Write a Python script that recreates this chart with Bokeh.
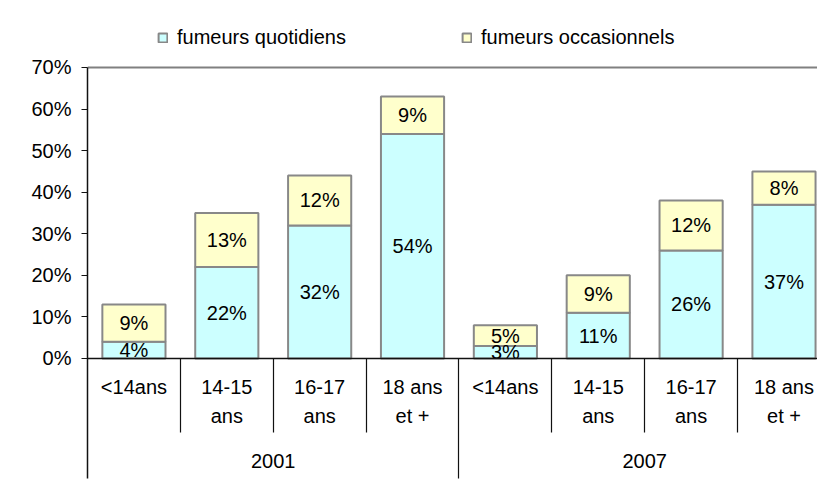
from bokeh.plotting import figure
from bokeh.models import (ColumnDataSource, Range1d, FixedTicker, LinearAxis,
                          Legend, LegendItem)
from bokeh.core.properties import value
from bokeh.embed import file_html
from bokeh.resources import INLINE

# ---- data ----
years = ["2001", "2007"]
age_line1 = ["<14ans", "14-15", "16-17", "18 ans"]
age_line2 = ["", "ans", "ans", "et +"]
quotidiens = [4, 22, 32, 54, 3, 11, 26, 37]
occasionnels = [9, 13, 12, 9, 5, 9, 12, 8]
y_ticks = [0, 10, 20, 30, 40, 50, 60, 70]
series_names = ["fumeurs quotidiens", "fumeurs occasionnels"]

FONT = "Liberation Sans"
FS = "20px"
C_Q = "#CCFFFF"
C_O = "#FFFFCC"
C_LINE = "#888888"
C_AX = "#111111"

n = len(quotidiens)
n_age = len(age_line1)
xs = [i + 0.5 for i in range(n)]
tops_o = [q + o for q, o in zip(quotidiens, occasionnels)]

src = ColumnDataSource(dict(
    x=xs, top_q=quotidiens, top_o=tops_o,
    zero=[0] * n,
    mid_q=[q / 2 for q in quotidiens],
    mid_o=[q + o / 2 for q, o in zip(quotidiens, occasionnels)],
    lab_q=[f"{q}%" for q in quotidiens],
    lab_o=[f"{o}%" for o in occasionnels],
))

p = figure(width=817, height=492, output_backend="svg", toolbar_location=None,
           x_range=Range1d(0, 7.861), y_range=Range1d(-32.23, 86.1),
           x_axis_type=None, min_border_left=87, min_border_right=0,
           min_border_top=0, min_border_bottom=0)
p.outline_line_color = None
p.background_fill_color = "white"
p.border_fill_color = "white"
p.xgrid.visible = False
p.ygrid.ticker = FixedTicker(ticks=[y_ticks[-1]])
p.ygrid.grid_line_color = "#808080"
p.ygrid.grid_line_width = 2

r_q = p.vbar(x="x", width=0.68, bottom="zero", top="top_q", source=src,
             fill_color=C_Q, line_color=C_LINE, line_width=2)
r_o = p.vbar(x="x", width=0.68, bottom="top_q", top="top_o", source=src,
             fill_color=C_O, line_color=C_LINE, line_width=2)

for ycol, tcol in (("mid_q", "lab_q"), ("mid_o", "lab_o")):
    p.text(x="x", y=ycol, text=tcol, source=src, text_align="center",
           text_baseline="middle", text_font=value(FONT),
           text_font_size=FS, text_color="black")

# y axis
ya = p.yaxis[0]
ya.ticker = FixedTicker(ticks=y_ticks, minor_ticks=[])
ya.major_label_overrides = {t: f"{t}%" for t in y_ticks}
ya.bounds = (-28.87, y_ticks[-1])
ya.major_tick_out = 6
ya.major_tick_in = 0
ya.major_label_standoff = 10
ya.major_label_text_font = FONT
ya.major_label_text_font_size = FS
ya.major_label_text_color = "black"
ya.axis_line_color = C_AX
ya.axis_line_width = 1.5
ya.major_tick_line_color = C_AX

# horizontal category axis line with separators (no labels)
group_sep = [n_age]
cat_sep = [i for i in range(1, n) if i % n_age != 0]
ax_line = LinearAxis(fixed_location=0,
                     ticker=FixedTicker(ticks=group_sep, minor_ticks=cat_sep),
                     major_label_overrides={t: "" for t in group_sep})
ax_line.axis_line_color = C_AX
ax_line.axis_line_width = 1.5
ax_line.major_tick_in = 0
ax_line.major_tick_out = 120
ax_line.major_tick_line_color = C_AX
ax_line.major_tick_line_width = 1.2
ax_line.minor_tick_in = 0
ax_line.minor_tick_out = 74
ax_line.minor_tick_line_color = C_AX
ax_line.minor_tick_line_width = 1.2
p.add_layout(ax_line, "below")

def label_axis(ticks, labels, standoff):
    ax = LinearAxis(fixed_location=0,
                    ticker=FixedTicker(ticks=ticks, minor_ticks=[]),
                    major_label_overrides={t: l for t, l in zip(ticks, labels)})
    ax.axis_line_color = None
    ax.major_tick_line_color = None
    ax.minor_tick_line_color = None
    ax.major_tick_in = 0
    ax.major_tick_out = 0
    ax.minor_tick_in = 0
    ax.minor_tick_out = 0
    ax.major_label_standoff = standoff
    ax.major_label_text_font = FONT
    ax.major_label_text_font_size = FS
    ax.major_label_text_color = "black"
    p.add_layout(ax, "below")
    return ax

label_axis(xs, age_line1 * len(years), 18)
label_axis(xs, age_line2 * len(years), 47)
label_axis([n_age * (k + 0.5) for k in range(len(years))], years, 96)

for r, name, xloc in ((r_q, series_names[0], 70), (r_o, series_names[1], 374)):
    leg = Legend(items=[LegendItem(label=name, renderers=[r])],
                 location=(xloc, 443), orientation="horizontal",
                 padding=0, margin=0, spacing=0, border_line_color=None,
                 background_fill_alpha=0, glyph_width=11, glyph_height=11,
                 label_standoff=9, label_text_font=FONT,
                 label_text_font_size=FS, label_text_color="black")
    p.add_layout(leg)

open("out.html", "w").write(file_html(p, INLINE))
